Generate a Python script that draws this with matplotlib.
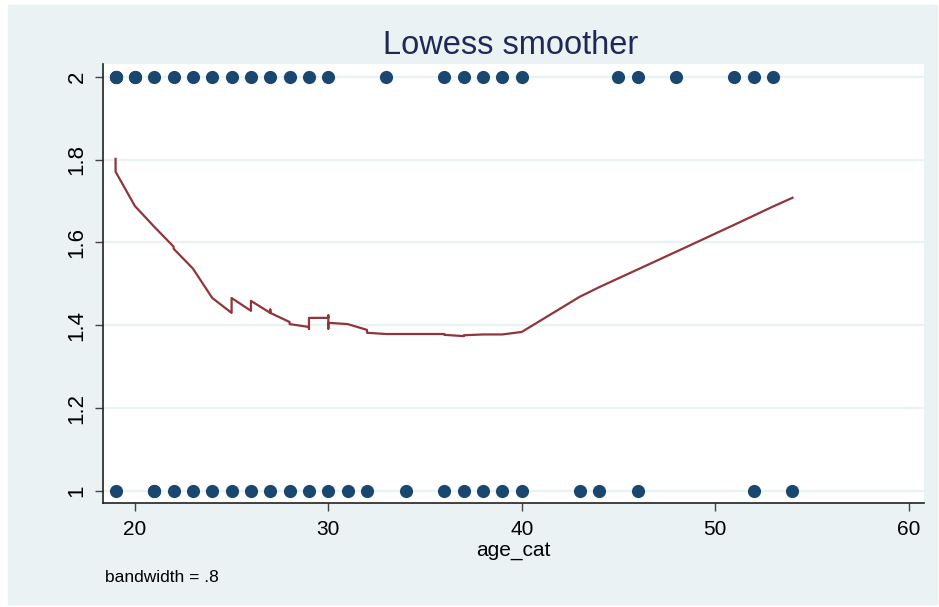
import matplotlib.pyplot as plt
from matplotlib.patches import Rectangle

plt.rcParams['font.family'] = ['Liberation Sans', 'DejaVu Sans']

# observed points (y = 2 and y = 1)
age_y2 = [19, 19, 19, 20, 20, 21, 22, 23, 24, 25, 26, 27, 28, 29, 30,
          33, 36, 37, 38, 39, 40, 45, 46, 48, 51, 52, 53]
age_y1 = [19, 21, 21, 22, 23, 24, 25, 26, 27, 28, 29, 30, 31, 32, 34,
          36, 37, 38, 39, 40, 43, 44, 46, 52, 54]

# lowess fitted values (ties give the little vertical jumps)
fit_x = [19, 19, 20, 21, 22, 22, 23, 24, 25, 25, 26, 26, 27, 27, 27, 28, 28,
         29, 29, 29, 30, 30, 30, 30, 31, 32, 32, 33, 34, 36, 36, 37, 37, 38,
         39, 40, 43, 44, 46, 48, 51, 52, 53, 54]
fit_y = [1.802, 1.771, 1.688, 1.638, 1.590, 1.585, 1.537, 1.466, 1.430, 1.466,
         1.435, 1.459, 1.430, 1.438, 1.430, 1.408, 1.403, 1.396, 1.391, 1.418,
         1.418, 1.424, 1.392, 1.406, 1.403, 1.389, 1.382, 1.379, 1.379, 1.379,
         1.377, 1.374, 1.376, 1.378, 1.378, 1.384, 1.469, 1.492, 1.535, 1.578,
         1.643, 1.665, 1.687, 1.708]

navy = '#1a476f'
maroon = '#90353b'
bg = '#eaf2f3'

fig = plt.figure(figsize=(9.39, 6.07), dpi=100)
# outer light panel (drawn behind the axes)
panel = Rectangle((8 / 939, 3 / 607), 929 / 939, 599 / 607,
                  transform=fig.transFigure, color=bg, zorder=-10)
fig.add_artist(panel)
ax = fig.add_axes([103 / 939, 1 - 503 / 607, 821 / 939, 439 / 607])
ax.set_facecolor('white')

ax.scatter(age_y2, [2] * len(age_y2), s=90, color=navy, zorder=3, linewidths=0)
ax.scatter(age_y1, [1] * len(age_y1), s=90, color=navy, zorder=3, linewidths=0)
ax.plot(fit_x, fit_y, color=maroon, linewidth=1.6, zorder=4)

ax.set_xlim(18.35, 60.8)
ax.set_ylim(0.971, 2.031)
ax.set_xticks([20, 30, 40, 50, 60])
ax.set_yticks([1, 1.2, 1.4, 1.6, 1.8, 2])
ax.set_yticklabels(['1', '1.2', '1.4', '1.6', '1.8', '2'], rotation=90, va='center')
ax.yaxis.grid(True, color=bg, linewidth=1.6, zorder=1)
ax.set_axisbelow(True)
for s in ['top', 'right']:
    ax.spines[s].set_visible(False)
for s in ['left', 'bottom']:
    ax.spines[s].set_color('#222222')
    ax.spines[s].set_linewidth(1.2)
ax.tick_params(axis='both', length=6, width=1, color='#444444', labelsize=15,
               labelcolor='black')
ax.tick_params(axis='y', pad=5, labelsize=16)
ax.tick_params(axis='x', pad=6)

ax.set_xlabel('age_cat', fontsize=15, labelpad=2)
fig.text(0.5435, 1 - 45 / 607, 'Lowess smoother', ha='center', va='center',
         fontsize=23.5, color='#1e2a55')
fig.text(105 / 939, 1 - 577 / 607, 'bandwidth = .8', ha='left', va='center',
         fontsize=12.5)

fig.savefig('out.png', dpi=100)
